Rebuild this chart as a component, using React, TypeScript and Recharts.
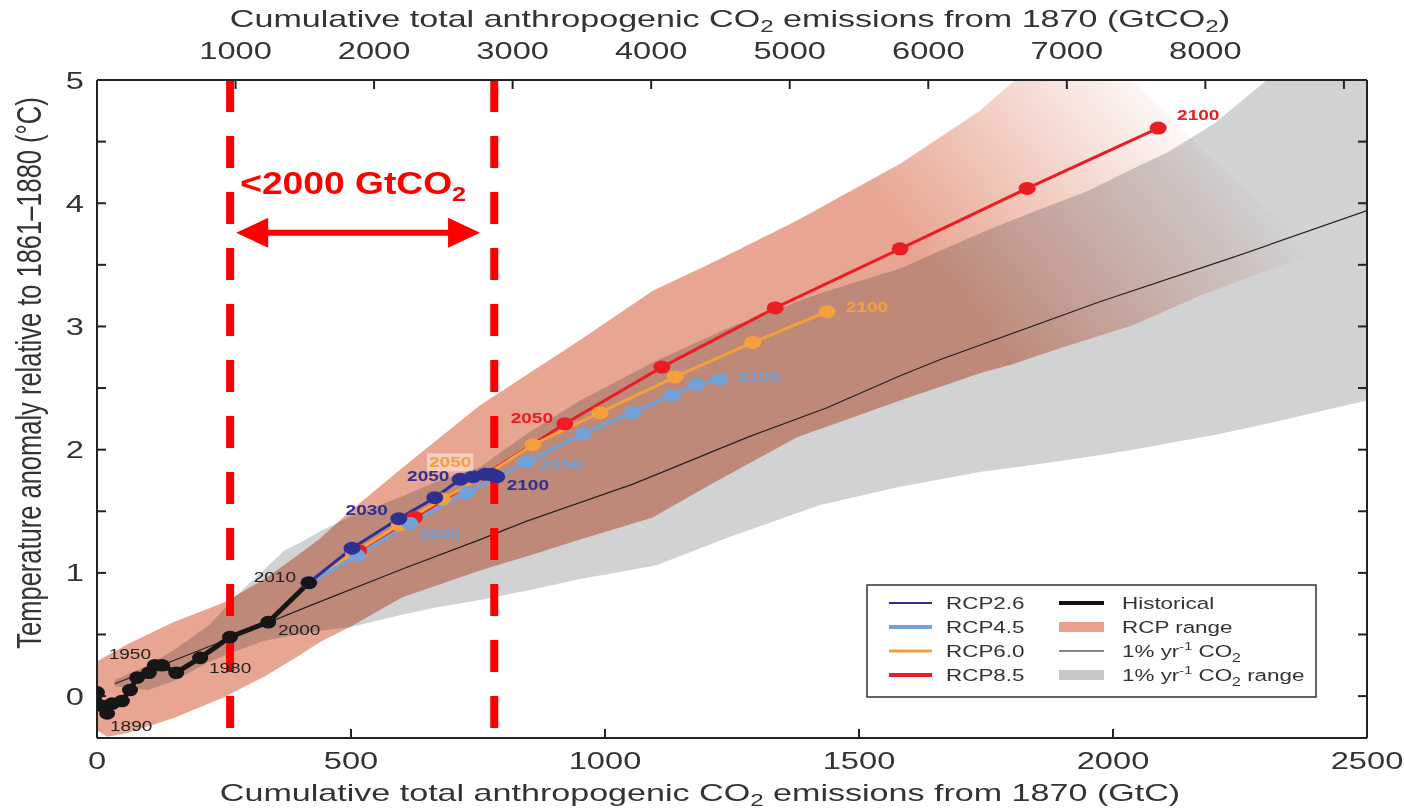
import React from 'react';
import { ComposedChart, Line, Area, XAxis, YAxis, ReferenceLine, Legend, LabelList } from 'recharts';

const FONT = '"Liberation Sans", Arial, Helvetica, sans-serif';
const SX = 1.36;

// ---------- data (x: cumulative GtC, y: temperature anomaly °C) ----------
const histX = [0, 10, 20, 30, 49, 65, 79, 102, 114, 128, 156, 203, 262, 337, 417];
const histY = [0.03, -0.08, -0.14, -0.06, -0.04, 0.05, 0.15, 0.19, 0.25, 0.25, 0.19, 0.31, 0.48, 0.6, 0.92];
const histLabels = ['', '', '1890', '', '', '', '', '1950', '', '', '', '', '1980', '2000', '2010'];

const rcpYears = [2010, 2020, 2030, 2040, 2050, 2060, 2070, 2080, 2090, 2100];
const rcp26X = [417, 502, 594, 665, 715, 740, 764, 776, 782, 787];
const rcp26Y = [0.92, 1.2, 1.44, 1.61, 1.76, 1.78, 1.8, 1.8, 1.79, 1.78];
const rcp26Shown = [2030, 2050, 2100];
const rcp45X = [417, 512, 616, 728, 846, 957, 1055, 1132, 1181, 1226];
const rcp45Y = [0.92, 1.14, 1.4, 1.65, 1.9, 2.13, 2.3, 2.44, 2.53, 2.57];
const rcp45Shown = [2030, 2050, 2100];
const rcp60X = [417, 505, 595, 680, 768, 858, 990, 1138, 1291, 1437];
const rcp60Y = [0.92, 1.16, 1.39, 1.6, 1.8, 2.04, 2.3, 2.59, 2.87, 3.12];
const rcp60Shown = [2050, 2100];
const rcp85X = [417, 515, 625, 765, 921, 1112, 1335, 1581, 1831, 2089];
const rcp85Y = [0.92, 1.18, 1.45, 1.8, 2.21, 2.67, 3.15, 3.63, 4.12, 4.61];
const rcp85Shown = [2050, 2100];

const onePctX = [35, 262, 417, 600, 754, 846, 1055, 1280, 1437, 1581, 1659, 1974, 2236, 2500];
const onePctY = [0.1, 0.47, 0.73, 1.03, 1.27, 1.42, 1.72, 2.1, 2.34, 2.6, 2.73, 3.2, 3.56, 3.94];

const grayX = [35, 100, 150, 222, 270, 330, 368, 407, 440, 500, 600, 667, 754, 850, 951, 1100, 1250, 1423, 1581, 1740, 1831, 1950, 2039, 2106, 2200, 2303, 2500];
const grayHi = [0.13, 0.25, 0.37, 0.58, 0.8, 1.03, 1.18, 1.26, 1.34, 1.46, 1.62, 1.74, 1.86, 2.14, 2.4, 2.72, 3.0, 3.27, 3.47, 3.76, 3.91, 4.1, 4.28, 4.41, 4.65, 5.0, 5.5];
const grayLo = [0.08, 0.05, 0.12, 0.28, 0.36, 0.45, 0.48, 0.51, 0.53, 0.56, 0.66, 0.72, 0.78, 0.86, 0.95, 1.06, 1.3, 1.55, 1.7, 1.82, 1.87, 1.94, 2.0, 2.05, 2.12, 2.21, 2.4];

const rcpRangeX = [0, 20, 60, 150, 250, 330, 394, 439, 498, 600, 754, 858, 951, 1094, 1213, 1378, 1581, 1738, 1807, 1900, 2039, 2171, 2300, 2427];
const rcpRangeHi = [0.28, 0.33, 0.42, 0.6, 0.76, 0.95, 1.14, 1.28, 1.5, 1.85, 2.36, 2.64, 2.89, 3.29, 3.52, 3.86, 4.32, 4.75, 5.0, 5.3, 5.0, 4.45, 3.95, 3.62];
const rcpRangeLo = [-0.28, -0.33, -0.3, -0.18, -0.01, 0.16, 0.32, 0.44, 0.56, 0.8, 1.02, 1.15, 1.27, 1.45, 1.73, 2.1, 2.4, 2.62, 2.7, 2.83, 3.01, 3.25, 3.45, 3.62];

const budgetLines = [262, 782];
const arrowFrom = 274;
const arrowTo = 754;
const arrowY = 3.76;

const xTicksGtC = [0, 500, 1000, 1500, 2000, 2500];
const xTicksGtCO2 = [1000, 2000, 3000, 4000, 5000, 6000, 7000, 8000, 9000];
const labelledGtCO2 = [1000, 2000, 3000, 4000, 5000, 6000, 7000, 8000];
const yTicks = [0, 0.5, 1, 1.5, 2, 2.5, 3, 3.5, 4, 4.5, 5];
const GTC_TO_GTCO2 = 44 / 12;

// ---------- built tables ----------
const hist = histX.map((x, i) => ({ x, y: histY[i], label: histLabels[i] }));
const mk = (xs: number[], ys: number[], shown: number[]) =>
  xs.map((x, i) => ({ x, y: ys[i], label: shown.includes(rcpYears[i]) ? String(rcpYears[i]) : '' }));
const rcp26 = mk(rcp26X, rcp26Y, rcp26Shown);
const rcp45 = mk(rcp45X, rcp45Y, rcp45Shown);
const rcp60 = mk(rcp60X, rcp60Y, rcp60Shown);
const rcp85 = mk(rcp85X, rcp85Y, rcp85Shown);
const onePct = onePctX.map((x, i) => ({ x, y: onePctY[i] }));
const grayBand = grayX.map((x, i) => ({ x, range: [grayLo[i], grayHi[i]] }));
const rcpBand = rcpRangeX.map((x, i) => ({ x, range: [rcpRangeLo[i], rcpRangeHi[i]] }));

// ---------- styles ----------
const C26 = '#2e3192';
const C45 = '#72a2d8';
const C60 = '#f6a03d';
const C85 = '#ec1c24';
const SALMON = '#e8a692';
const GRAY = '#d1d2d4';
const RED = '#ff0000';

const labelOffsets: Record<string, Record<string, [number, number]>> = {
  hist: { '1890': [24, 13], '1950': [-19, -19], '1980': [0, 31], '2000': [31, 8], '2010': [-34, -6] },
  rcp26: { '2030': [-32, -9], '2050': [-32, -3], '2100': [31, 8] },
  rcp45: { '2030': [30, 10], '2050': [34, 2], '2100': [39, -2] },
  rcp60: { '2050': [-37, -12], '2100': [40, -5] },
  rcp85: { '2050': [-33, -6], '2100': [40, -13] },
};

const makeLabel = (key: string, data: any[], color: string, bold: boolean, boxed?: string) => (p: any) => {
  const idx = p.index;
  const lab = data[idx] ? data[idx].label : '';
  if (!lab) return <g />;
  const off = labelOffsets[key][lab] || [0, 0];
  const cx = Number(p.x) + off[0];
  const cy = Number(p.y) + off[1];
  return (
    <g transform={`translate(${cx},${cy}) scale(${SX},1)`}>
      {boxed === lab ? <rect x={-17} y={-9} width={34} height={18} fill="#ffffff" fillOpacity={0.45} /> : null}
      <text x={0} y={5} textAnchor="middle" fontSize={14} fontWeight={bold ? 700 : 400} fill={color} fontFamily={FONT}>
        {lab}
      </text>
    </g>
  );
};

const ellipseDot = (color: string, rx: number, ry: number) => (p: any) => {
  if (p.cx == null || p.cy == null) return <g key={p.index} />;
  return <ellipse key={`d${p.index}`} cx={p.cx} cy={p.cy} rx={rx} ry={ry} fill={color} />;
};

const tickText = (anchor: string, fmt: (v: number) => string, dy: number) => (p: any) => {
  const s = fmt(p.payload.value);
  if (!s) return <g />;
  return (
    <g transform={`translate(${p.x},${p.y}) scale(${SX},1)`}>
      <text x={0} y={dy} textAnchor={anchor} fontSize={24} fill="#333" fontFamily={FONT}>
        {s}
      </text>
    </g>
  );
};

const XTitle = (unit: string, baselineY: number, shiftX: number) => (p: any) => {
  const vb = p.viewBox || {};
  const cx = vb.x + vb.width / 2 + shiftX;
  const co2 = unit === 'GtCO2';
  return (
    <g transform={`translate(${cx},${baselineY}) scale(1.42,1)`}>
      <text x={0} y={0} textAnchor="middle" fontSize={24} fill="#333" fontFamily={FONT}>
        Cumulative total anthropogenic CO
        <tspan fontSize={17} dy={5}>2</tspan>
        <tspan dy={-5}> emissions from 1870 ({co2 ? 'GtCO' : 'GtC'}</tspan>
        {co2 ? <tspan fontSize={17} dy={5}>2</tspan> : null}
        <tspan dy={co2 ? -5 : 0}>)</tspan>
      </text>
    </g>
  );
};

const YTitle = (p: any) => {
  const vb = p.viewBox || {};
  const cy = vb.y + vb.height / 2 - 36;
  return (
    <g transform={`translate(30,${cy}) scale(${SX},1) rotate(-90)`}>
      <text x={0} y={8} textAnchor="middle" fontSize={25.5} fill="#333" fontFamily={FONT}>
        Temperature anomaly relative to 1861–1880 (°C)
      </text>
    </g>
  );
};

const ArrowShape = (p: any) => {
  const x1 = Number(p.x1), y1 = Number(p.y1), x2 = Number(p.x2), y2 = Number(p.y2);
  const hl = 32;
  const hw = 15;
  return (
    <g>
      <line x1={x1 + hl - 4} y1={y1} x2={x2 - hl + 4} y2={y2} stroke={RED} strokeWidth={6} />
      <polygon points={`${x1},${y1} ${x1 + hl},${y1 - hw} ${x1 + hl},${y1 + hw}`} fill={RED} />
      <polygon points={`${x2},${y2} ${x2 - hl},${y2 - hw} ${x2 - hl},${y2 + hw}`} fill={RED} />
      <g transform={`translate(${x1 + 4},${y1 - 39}) scale(1.2,1)`}>
        <text x={0} y={0} fontSize={31} fontWeight={700} fill={RED} fontFamily={FONT}>
          &lt;2000 GtCO
          <tspan fontSize={21} dy={7}>2</tspan>
        </text>
      </g>
    </g>
  );
};

const legendLeft = [
  { name: 'RCP2.6', color: C26, w: 2 },
  { name: 'RCP4.5', color: C45, w: 4 },
  { name: 'RCP6.0', color: C60, w: 3 },
  { name: 'RCP8.5', color: C85, w: 4 },
];

const LegendBox = () => {
  const rows = [19, 43, 67, 91];
  const t = (x: number, y: number, content: React.ReactNode) => (
    <g transform={`translate(${x},${y + 6}) scale(1.32,1)`}>
      <text x={0} y={0} fontSize={17} fill="#333" fontFamily={FONT}>
        {content}
      </text>
    </g>
  );
  return (
    <svg width={452} height={115} style={{ display: 'block' }}>
      <rect x={1} y={1} width={449} height={112} fill="#fff" stroke="#333" strokeWidth={1.5} />
      {legendLeft.map((e, i) => (
        <g key={e.name}>
          <line x1={23} x2={66} y1={rows[i]} y2={rows[i]} stroke={e.color} strokeWidth={e.w} />
          {t(80, rows[i], e.name)}
        </g>
      ))}
      <line x1={193} x2={238} y1={rows[0]} y2={rows[0]} stroke="#111" strokeWidth={4} />
      {t(256, rows[0], 'Historical')}
      <rect x={193} y={rows[1] - 5} width={45} height={10} fill="#e9a08a" />
      {t(256, rows[1], 'RCP range')}
      <line x1={193} x2={238} y1={rows[2]} y2={rows[2]} stroke="#111" strokeWidth={1} />
      {t(256, rows[2], (
        <>
          1% yr<tspan fontSize={11} dy={-7}>-1</tspan>
          <tspan dy={7}> CO</tspan>
          <tspan fontSize={12} dy={5}>2</tspan>
        </>
      ))}
      <rect x={193} y={rows[3] - 5} width={45} height={10} fill="#c6c7c9" />
      {t(256, rows[3], (
        <>
          1% yr<tspan fontSize={11} dy={-7}>-1</tspan>
          <tspan dy={7}> CO</tspan>
          <tspan fontSize={12} dy={5}>2</tspan>
          <tspan dy={-5}> range</tspan>
        </>
      ))}
    </svg>
  );
};

export default function App() {
  return (
    <div style={{ position: 'absolute', left: 0, top: 0, width: 1404, height: 808, background: '#fff' }}>
      <style>{`.rcp-range, .rcp-range * { mix-blend-mode: multiply; }`}</style>
      <ComposedChart width={1404} height={808} margin={{ top: 0, right: 0, bottom: 0, left: 0 }}>
        <defs>
          <linearGradient id="rcpFade" gradientUnits="userSpaceOnUse" x1={890} y1={215} x2={1130} y2={25}>
            <stop offset="0" stopColor={SALMON} stopOpacity={1} />
            <stop offset="1" stopColor={SALMON} stopOpacity={0} />
          </linearGradient>
        </defs>
        <XAxis
          xAxisId="bottom"
          type="number"
          dataKey="x"
          domain={[0, 2500]}
          ticks={xTicksGtC}
          allowDataOverflow
          height={70}
          axisLine={{ stroke: '#222', strokeWidth: 2 }}
          tickLine={{ stroke: '#222', strokeWidth: 2 }}
          tickSize={-9}
          tickMargin={40}
          tick={tickText('middle', (v) => String(v), 0)}
          label={{ content: XTitle('GtC', 801, -32) }}
        />
        <XAxis
          xAxisId="top"
          orientation="top"
          type="number"
          dataKey="x"
          domain={[0, 2500 * GTC_TO_GTCO2]}
          ticks={xTicksGtCO2}
          allowDataOverflow
          height={80}
          axisLine={{ stroke: '#222', strokeWidth: 2 }}
          tickLine={{ stroke: '#222', strokeWidth: 2 }}
          tickSize={-9}
          tickMargin={30}
          tick={tickText('middle', (v) => (labelledGtCO2.includes(v) ? String(v) : ''), 0)}
          label={{ content: XTitle('GtCO2', 27, -2) }}
        />
        <YAxis
          yAxisId="left"
          type="number"
          domain={[-0.34, 5]}
          ticks={yTicks}
          allowDataOverflow
          width={97}
          axisLine={{ stroke: '#222', strokeWidth: 2 }}
          tickLine={{ stroke: '#222', strokeWidth: 2 }}
          tickSize={-9}
          tickMargin={22}
          tick={tickText('end', (v) => (Number.isInteger(v) ? String(v) : ''), 8.5)}
          label={{ content: YTitle }}
        />
        <YAxis
          yAxisId="right"
          orientation="right"
          type="number"
          domain={[-0.34, 5]}
          ticks={yTicks}
          allowDataOverflow
          width={37}
          axisLine={{ stroke: '#222', strokeWidth: 2 }}
          tickLine={{ stroke: '#222', strokeWidth: 2 }}
          tickSize={-9}
          tick={() => <g />}
        />
        <Area
          data={grayBand}
          dataKey="range"
          xAxisId="bottom"
          yAxisId="left"
          type="linear"
          stroke="none"
          fill={GRAY}
          fillOpacity={1}
          isAnimationActive={false}
          activeDot={false}
        />
        <Area
          className="rcp-range"
          data={rcpBand}
          dataKey="range"
          xAxisId="bottom"
          yAxisId="left"
          type="linear"
          stroke="none"
          fill="url(#rcpFade)"
          fillOpacity={1}
          isAnimationActive={false}
          activeDot={false}
        />
        <Line data={onePct} dataKey="y" xAxisId="bottom" yAxisId="left" type="linear" stroke="#222" strokeWidth={1.2} dot={false} activeDot={false} isAnimationActive={false} />
        <Line data={rcp85} dataKey="y" xAxisId="bottom" yAxisId="left" type="linear" stroke={C85} strokeWidth={3} dot={ellipseDot(C85, 8.5, 6.5)} activeDot={false} isAnimationActive={false}>
          <LabelList dataKey="label" content={makeLabel('rcp85', rcp85, C85, true)} />
        </Line>
        <Line data={rcp60} dataKey="y" xAxisId="bottom" yAxisId="left" type="linear" stroke={C60} strokeWidth={3} dot={ellipseDot(C60, 8.5, 6.5)} activeDot={false} isAnimationActive={false}>
          <LabelList dataKey="label" content={makeLabel('rcp60', rcp60, C60, true, '2050')} />
        </Line>
        <Line data={rcp45} dataKey="y" xAxisId="bottom" yAxisId="left" type="linear" stroke={C45} strokeWidth={3.5} dot={ellipseDot(C45, 8.5, 6.5)} activeDot={false} isAnimationActive={false}>
          <LabelList dataKey="label" content={makeLabel('rcp45', rcp45, C45, true)} />
        </Line>
        <Line data={rcp26} dataKey="y" xAxisId="bottom" yAxisId="left" type="linear" stroke={C26} strokeWidth={3} dot={ellipseDot(C26, 8.5, 6.5)} activeDot={false} isAnimationActive={false}>
          <LabelList dataKey="label" content={makeLabel('rcp26', rcp26, C26, true)} />
        </Line>
        <Line data={hist} dataKey="y" xAxisId="bottom" yAxisId="left" type="linear" stroke="#161616" strokeWidth={5} dot={ellipseDot('#161616', 8, 6.3)} activeDot={false} isAnimationActive={false}>
          <LabelList dataKey="label" content={makeLabel('hist', hist, '#222', false)} />
        </Line>
        {budgetLines.map((bx) => (
          <ReferenceLine
            key={bx}
            xAxisId="bottom"
            yAxisId="left"
            segment={[{ x: bx, y: 5 }, { x: bx, y: -0.34 }]}
            stroke={RED}
            strokeWidth={8}
            strokeDasharray="32 24"
          />
        ))}
        <ReferenceLine
          xAxisId="bottom"
          yAxisId="left"
          segment={[{ x: arrowFrom, y: arrowY }, { x: arrowTo, y: arrowY }]}
          shape={ArrowShape}
        />
        <Legend
          layout="horizontal"
          verticalAlign="middle"
          align="center"
          content={() => <LegendBox />}
          wrapperStyle={{ position: 'absolute', left: 866, top: 584, width: 452, height: 115 }}
        />
      </ComposedChart>
    </div>
  );
}
